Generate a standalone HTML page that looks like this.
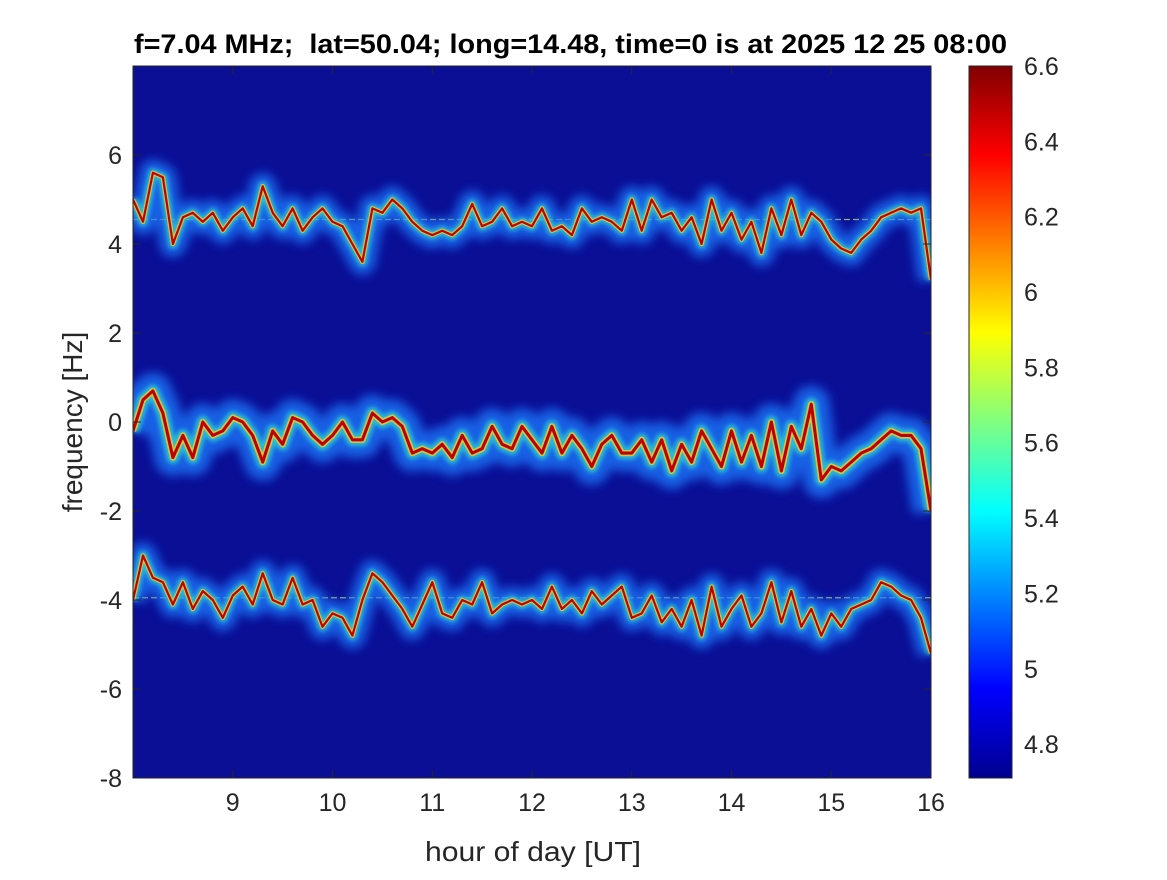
<!DOCTYPE html>
<html><head><meta charset="utf-8"><style>
body{margin:0;background:#fff;}
svg text{font-family:"Liberation Sans",sans-serif;fill:#262626;}
</style></head><body>
<svg id="chart" width="1167" height="875" xmlns="http://www.w3.org/2000/svg">
<defs>
<clipPath id="pc"><rect x="133" y="66" width="798" height="712"/></clipPath>
<filter id="b1" x="-10%" y="-50%" width="120%" height="200%"><feGaussianBlur stdDeviation="5"/></filter>
<filter id="b2" x="-10%" y="-50%" width="120%" height="200%"><feGaussianBlur stdDeviation="2"/></filter>
<linearGradient id="jet" x1="0" y1="1" x2="0" y2="0">
<stop offset="0" stop-color="#00008f"/><stop offset="0.125" stop-color="#0000ff"/>
<stop offset="0.375" stop-color="#00ffff"/><stop offset="0.625" stop-color="#ffff00"/>
<stop offset="0.875" stop-color="#ff0000"/><stop offset="1" stop-color="#800000"/>
</linearGradient>
</defs>
<rect x="133" y="66" width="798" height="712" fill="#0a0f96"/>
<g id="marks" clip-path="url(#pc)"></g>
<rect x="133" y="66" width="798" height="712" fill="none" stroke="#262626" stroke-width="1"/>
<g id="axes"></g>
<text x="134" y="53" font-size="27" font-weight="bold" textLength="873" lengthAdjust="spacingAndGlyphs" style="fill:#000;white-space:pre" xml:space="preserve">f=7.04 MHz;  lat=50.04; long=14.48, time=0 is at 2025 12 25 08:00</text>
<text x="533" y="861" text-anchor="middle" font-size="28" textLength="216" lengthAdjust="spacingAndGlyphs">hour of day [UT]</text>
<text transform="translate(82,422) rotate(-90)" text-anchor="middle" font-size="28">frequency [Hz]</text>
<rect x="969" y="66" width="43" height="712" fill="url(#jet)" stroke="#262626" stroke-width="1"/>
</svg>
<script>
const hours=[8.0,8.1,8.2,8.3,8.4,8.5,8.6,8.7,8.8,8.9,9.0,9.1,9.2,9.3,9.4,9.5,9.6,9.7,9.8,9.9,10.0,10.1,10.2,10.3,10.4,10.5,10.6,10.7,10.8,10.9,11.0,11.1,11.2,11.3,11.4,11.5,11.6,11.7,11.8,11.9,12.0,12.1,12.2,12.3,12.4,12.5,12.6,12.7,12.8,12.9,13.0,13.1,13.2,13.3,13.4,13.5,13.6,13.7,13.8,13.9,14.0,14.1,14.2,14.3,14.4,14.5,14.6,14.7,14.8,14.9,15.0,15.1,15.2,15.3,15.4,15.5,15.6,15.7,15.8,15.9,16.0];
const topBand=[5.0,4.5,5.6,5.5,4.0,4.6,4.7,4.5,4.7,4.3,4.6,4.8,4.4,5.3,4.7,4.4,4.8,4.3,4.6,4.8,4.5,4.4,4.0,3.6,4.8,4.7,5.0,4.8,4.5,4.3,4.2,4.3,4.2,4.4,4.9,4.4,4.5,4.8,4.4,4.5,4.4,4.8,4.3,4.4,4.2,4.8,4.5,4.6,4.5,4.3,5.0,4.3,5.0,4.6,4.7,4.3,4.6,4.0,5.0,4.3,4.7,4.1,4.5,3.8,4.8,4.2,5.0,4.2,4.7,4.5,4.1,3.9,3.8,4.1,4.3,4.6,4.7,4.8,4.7,4.8,3.2];
const midBand=[-0.2,0.5,0.7,0.2,-0.8,-0.3,-0.8,0,-0.3,-0.2,0.1,0,-0.3,-0.9,-0.2,-0.5,0.1,0,-0.3,-0.5,-0.3,0,-0.4,-0.4,0.2,0,0.1,-0.1,-0.7,-0.6,-0.7,-0.5,-0.8,-0.3,-0.7,-0.6,-0.1,-0.5,-0.6,-0.1,-0.4,-0.7,-0.1,-0.7,-0.3,-0.6,-1.0,-0.5,-0.3,-0.7,-0.7,-0.4,-0.9,-0.4,-1.1,-0.5,-0.9,-0.2,-0.6,-1.0,-0.2,-0.9,-0.3,-1.0,0,-1.1,-0.1,-0.6,0.4,-1.3,-1.0,-1.1,-0.9,-0.7,-0.6,-0.4,-0.2,-0.3,-0.3,-0.6,-2.0];
const botBand=[-4.0,-3.0,-3.5,-3.6,-4.1,-3.6,-4.2,-3.8,-4.0,-4.4,-3.9,-3.7,-4.1,-3.4,-4.0,-4.1,-3.5,-4.1,-4.0,-4.6,-4.3,-4.4,-4.8,-4.0,-3.4,-3.6,-3.9,-4.2,-4.6,-4.1,-3.6,-4.3,-4.4,-4.0,-4.1,-3.6,-4.3,-4.1,-4.0,-4.1,-4.0,-4.2,-3.7,-4.2,-4.0,-4.3,-3.8,-4.1,-3.9,-3.7,-4.4,-4.3,-3.9,-4.5,-4.2,-4.6,-4.0,-4.8,-3.7,-4.6,-4.2,-3.9,-4.6,-4.3,-3.6,-4.5,-3.8,-4.6,-4.2,-4.8,-4.3,-4.6,-4.2,-4.1,-4.0,-3.6,-3.7,-3.9,-4.0,-4.4,-5.2];
const refLines=[4.55,-3.95];
const xTicks=[9,10,11,12,13,14,15,16];
const yTicks=[-8,-6,-4,-2,0,2,4,6];
const cTicks=[4.8,5,5.2,5.4,5.6,5.8,6,6.2,6.4,6.6];
const NS="http://www.w3.org/2000/svg";
const X=h=>133+(h-8)*99.75;
const Y=f=>422-f*44.5;
const C=v=>778-(v-4.71)/(6.6-4.71)*712;
const marks=document.getElementById('marks'), axes=document.getElementById('axes');
function mk(tag,attrs,parent){const e=document.createElementNS(NS,tag);for(const k in attrs)e.setAttribute(k,attrs[k]);parent.appendChild(e);return e;}
refLines.forEach(f=>{
  const l=mk('line',{x1:133,x2:931,y1:Y(f),y2:Y(f),stroke:'#a0b070','stroke-width':1.2,'stroke-dasharray':'6 3'},marks);
  
  
});
[['band-upper',topBand],['band-middle',midBand],['band-lower',botBand]].forEach(([name,arr])=>{
  const d=arr.map((v,i)=>(i?'L':'M')+X(hours[i]).toFixed(1)+','+Y(v).toFixed(1)).join(' ');
  const g=mk('g',{},marks);
  
  
  const w=name==='band-middle'?1.4:1;
  mk('path',{d:d,fill:'none',stroke:'#1e7cff','stroke-width':26*w,filter:'url(#b1)',opacity:0.75,'stroke-linejoin':'round'},g);
  mk('path',{d:d,fill:'none',stroke:'#30d8d0','stroke-width':9*w,filter:'url(#b2)',opacity:0.75,'stroke-linejoin':'round'},g);
  mk('path',{d:d,fill:'none',stroke:'#f0d020','stroke-width':4.5*w,opacity:0.8,'stroke-linejoin':'round'},g);
  mk('path',{d:d,fill:'none',stroke:'#c00000','stroke-width':2.2*w,'stroke-linejoin':'round'},g);
});
xTicks.forEach(t=>{
  const x=X(t);
  mk('line',{x1:x,x2:x,y1:778,y2:770,stroke:'#262626'},axes);
  mk('line',{x1:x,x2:x,y1:66,y2:74,stroke:'#262626'},axes);
  const tx=mk('text',{x:x,y:811,'text-anchor':'middle','font-size':25},axes);
  tx.textContent=t;
  
  
});
yTicks.forEach(t=>{
  const y=Y(t);
  mk('line',{x1:133,x2:141,y1:y,y2:y,stroke:'#262626'},axes);
  mk('line',{x1:931,x2:923,y1:y,y2:y,stroke:'#262626'},axes);
  const tx=mk('text',{x:122,y:y+9,'text-anchor':'end','font-size':25},axes);
  tx.textContent=t;
  
  
});
cTicks.forEach(t=>{
  const y=C(t);
  mk('line',{x1:1004,x2:1012,y1:y,y2:y,stroke:'#262626'},axes);
  const tx=mk('text',{x:1024,y:y+9,'font-size':25},axes);
  tx.textContent=t;
  
  
});
</script>
</body></html>
